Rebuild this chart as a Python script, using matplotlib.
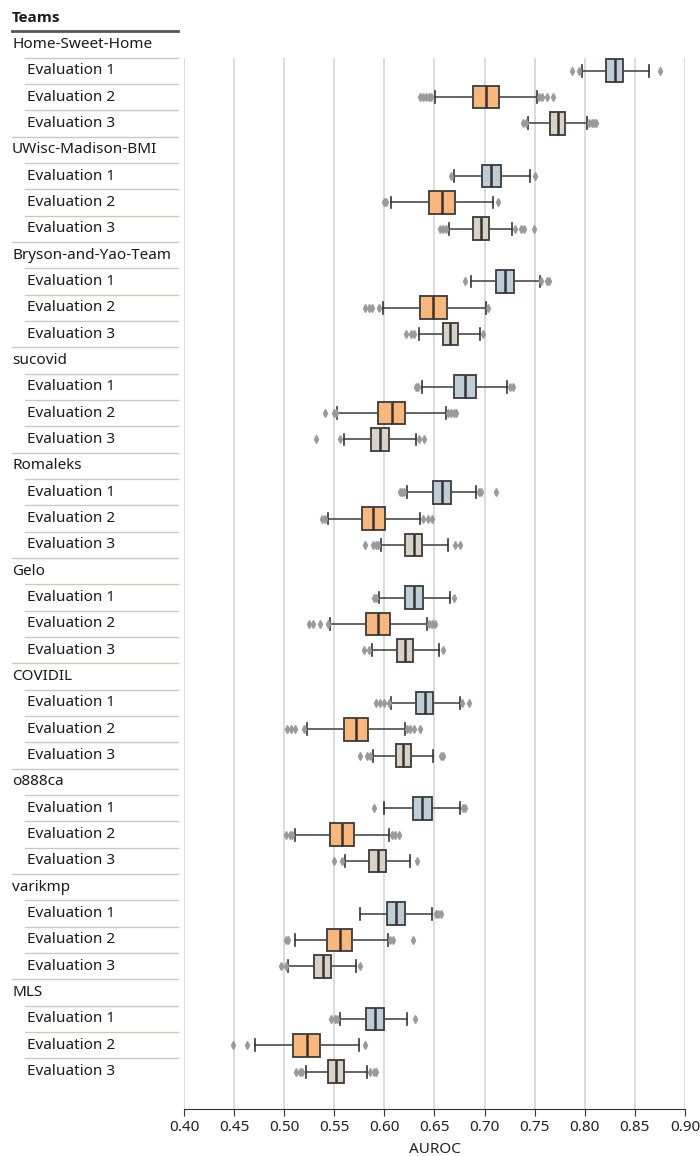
import matplotlib.pyplot as plt
import numpy as np
from matplotlib.transforms import blended_transform_factory
from matplotlib.lines import Line2D

plt.rcParams['font.family'] = ['Noto Sans', 'DejaVu Sans']

teams = ["Home-Sweet-Home", "UWisc-Madison-BMI", "Bryson-and-Yao-Team", "sucovid",
         "Romaleks", "Gelo", "COVIDIL", "o888ca", "varikmp", "MLS"]
evals = ["Evaluation 1", "Evaluation 2", "Evaluation 3"]

# box summaries, one entry per team/evaluation (E1, E2, E3 for each team)
whislo = [0.797, 0.650, 0.743, 0.669, 0.607, 0.664, 0.686, 0.599, 0.635, 0.638,
          0.553, 0.560, 0.623, 0.544, 0.597, 0.595, 0.546, 0.588, 0.607, 0.523,
          0.589, 0.600, 0.511, 0.561, 0.576, 0.511, 0.504, 0.556, 0.471, 0.522]
q1 = [0.821, 0.688, 0.765, 0.697, 0.645, 0.688, 0.711, 0.636, 0.658, 0.669,
      0.594, 0.587, 0.649, 0.578, 0.621, 0.621, 0.582, 0.613, 0.632, 0.560,
      0.612, 0.629, 0.546, 0.585, 0.603, 0.543, 0.530, 0.582, 0.509, 0.544]
med = [0.830, 0.701, 0.773, 0.706, 0.657, 0.696, 0.720, 0.649, 0.665, 0.680,
       0.608, 0.596, 0.657, 0.589, 0.630, 0.630, 0.594, 0.621, 0.641, 0.572,
       0.619, 0.638, 0.558, 0.594, 0.612, 0.556, 0.539, 0.591, 0.523, 0.552]
q3 = [0.838, 0.714, 0.780, 0.716, 0.670, 0.704, 0.729, 0.662, 0.673, 0.691,
      0.621, 0.605, 0.666, 0.601, 0.638, 0.639, 0.606, 0.629, 0.649, 0.584,
      0.627, 0.648, 0.570, 0.602, 0.621, 0.568, 0.547, 0.600, 0.536, 0.560]
whishi = [0.864, 0.752, 0.802, 0.745, 0.708, 0.727, 0.755, 0.701, 0.695, 0.722,
          0.661, 0.632, 0.691, 0.636, 0.663, 0.665, 0.643, 0.654, 0.675, 0.621,
          0.649, 0.675, 0.605, 0.626, 0.648, 0.604, 0.572, 0.623, 0.575, 0.583]
fliers = [
    [0.787, 0.794, 0.875],
    [0.636, 0.639, 0.642, 0.645, 0.647, 0.754, 0.757, 0.762, 0.768],
    [0.738, 0.741, 0.804, 0.807, 0.809, 0.811],
    [0.666, 0.750],
    [0.600, 0.602, 0.713],
    [0.655, 0.658, 0.661, 0.730, 0.736, 0.739, 0.749],
    [0.680, 0.756, 0.762, 0.764],
    [0.581, 0.585, 0.588, 0.595, 0.703],
    [0.622, 0.627, 0.630, 0.698],
    [0.632, 0.634, 0.725, 0.728],
    [0.541, 0.550, 0.552, 0.663, 0.666, 0.669, 0.671],
    [0.532, 0.556, 0.635, 0.640],
    [0.616, 0.618, 0.620, 0.694, 0.696, 0.711],
    [0.538, 0.541, 0.639, 0.644, 0.648],
    [0.581, 0.589, 0.592, 0.594, 0.670, 0.675],
    [0.590, 0.592, 0.669],
    [0.525, 0.529, 0.536, 0.544, 0.645, 0.648, 0.650],
    [0.580, 0.585, 0.658],
    [0.592, 0.596, 0.600, 0.605, 0.677, 0.684],
    [0.503, 0.507, 0.511, 0.520, 0.623, 0.626, 0.630, 0.636],
    [0.576, 0.583, 0.586, 0.656, 0.658],
    [0.590, 0.678, 0.680],
    [0.502, 0.506, 0.508, 0.608, 0.611, 0.615],
    [0.550, 0.558, 0.633],
    [0.651, 0.653, 0.656],
    [0.502, 0.504, 0.606, 0.609, 0.629],
    [0.497, 0.502, 0.576],
    [0.547, 0.551, 0.553, 0.631],
    [0.449, 0.463, 0.581],
    [0.512, 0.516, 0.518, 0.586, 0.590, 0.592],
]
eval_colors = ["#bccfd9", "#f9b77c", "#dad3c5"]

W, H = 700, 1156
fig = plt.figure(figsize=(W / 100, H / 100), dpi=100)

row_h = 26.34
row0 = 44.4
ax_top = row0 + 0.5 * row_h
ax_bot = 1109
ax = fig.add_axes([184 / W, 1 - ax_bot / H, (685 - 184) / W, (ax_bot - ax_top) / H])

# each team takes 4 rows: name row then 3 evaluation rows
stats, pos, cols = [], [], []
for i in range(len(whislo)):
    t, e = divmod(i, 3)
    stats.append(dict(whislo=whislo[i], q1=q1[i], med=med[i], q3=q3[i],
                      whishi=whishi[i], fliers=fliers[i]))
    pos.append(4 * t + e + 1)
    cols.append(eval_colors[e])

bp = ax.bxp(stats, positions=pos, vert=False, widths=0.86, capwidths=0.45,
            patch_artist=True, showfliers=True,
            boxprops=dict(edgecolor="#3a3a3a", linewidth=1.3),
            medianprops=dict(color="#333333", linewidth=1.8),
            whiskerprops=dict(color="#4a4a4a", linewidth=1.2),
            capprops=dict(color="#333333", linewidth=1.2),
            flierprops=dict(marker="d", markersize=4, markerfacecolor="#9a9a9a",
                            markeredgecolor="#9a9a9a", linestyle="none"))
for patch, c in zip(bp["boxes"], cols):
    patch.set_facecolor(c)

ax.set_xlim(0.40, 0.90)
ax.set_ylim((ax_bot - row0) / row_h, 0.5)
ax.set_xticks(np.arange(0.40, 0.901, 0.05))
ax.set_xticklabels([f"{v:.2f}" for v in np.arange(0.40, 0.901, 0.05)])
ax.xaxis.grid(True, color="#dcdcdc", linewidth=1.4)
ax.set_axisbelow(True)
ax.set_yticks([])
for s in ["top", "left", "right"]:
    ax.spines[s].set_visible(False)
ax.spines["bottom"].set_color("#333333")
ax.tick_params(axis="x", length=5, color="#333333", labelsize=11, labelcolor="#222222", pad=3)
ax.set_xlabel("AUROC", fontsize=11, color="#222222", labelpad=5)

# label table on the left
tr = blended_transform_factory(fig.transFigure, ax.transData)
fig.text(12 / W, 1 - 18 / H, "Teams", fontsize=11, fontweight="bold", va="center",
         color="#1a1a1a", family=["Open Sans", "DejaVu Sans"])
fig.add_artist(Line2D([12 / W, 178 / W], [1 - 31.2 / H] * 2, color="#555555", linewidth=2))
sep = "#cac7c0"
for t, name in enumerate(teams):
    y = 4 * t
    ax.text(12 / W, y, name, transform=tr, fontsize=11, va="center", color="#1a1a1a", clip_on=False)
    for e, lab in enumerate(evals):
        ax.text(27 / W, y + e + 1, lab, transform=tr, fontsize=11, va="center",
                color="#1a1a1a", clip_on=False)
    for k in range(3):
        ax.add_line(Line2D([25 / W, 178 / W], [y + k + 0.5] * 2, transform=tr,
                           color=sep, linewidth=1, clip_on=False))
    if t < len(teams) - 1:
        ax.add_line(Line2D([12 / W, 178 / W], [y + 3.5] * 2, transform=tr,
                           color=sep, linewidth=1, clip_on=False))

fig.savefig("out.png", dpi=100)
